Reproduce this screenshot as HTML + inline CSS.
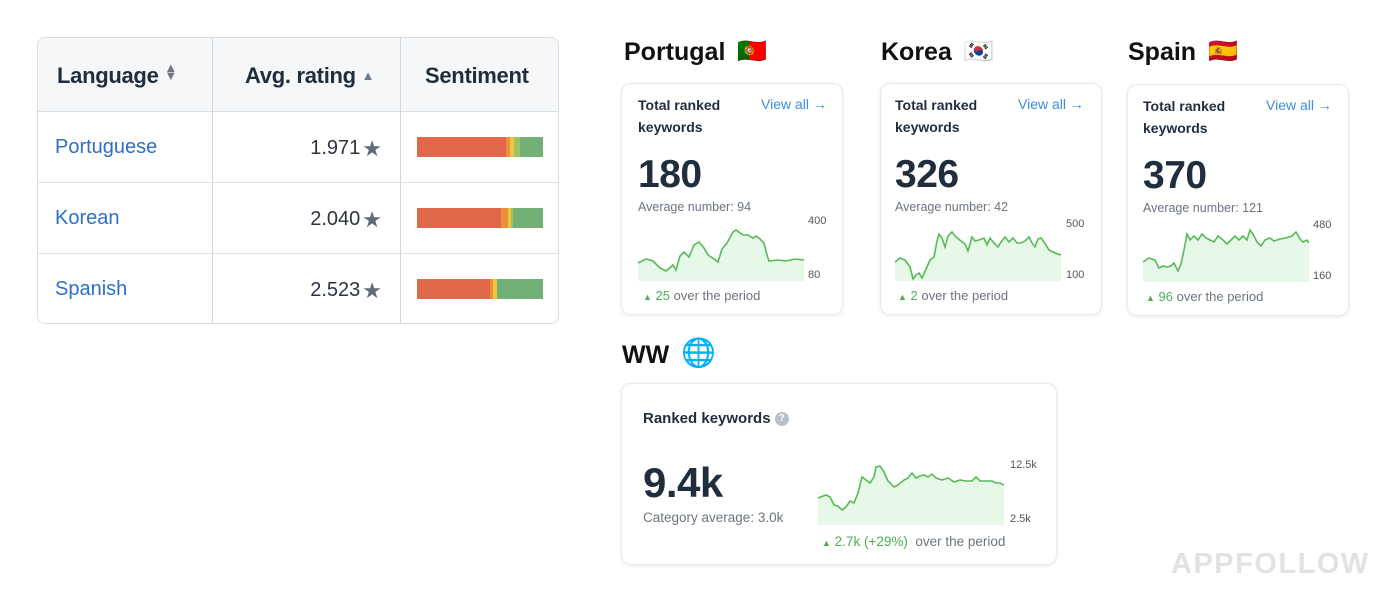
<!DOCTYPE html>
<html><head><meta charset="utf-8"><style>
*{box-sizing:border-box;margin:0;padding:0}
body{width:1400px;height:602px;background:#fff;font-family:"Liberation Sans",sans-serif;position:relative;overflow:hidden;color:#1f2d3d}
.a{position:absolute}
.tbl{left:37px;top:37px;width:522px;height:287px;border:1px solid #d8dde3;border-radius:8px;overflow:hidden}
.hd{left:0;top:0;width:522px;height:74px;background:#f6f7f9;border-bottom:1px solid #d8dde3}
.vl{width:1px;background:#d0d6de;top:0;height:287px}
.hl{height:1px;background:#dde2e8;left:0;width:522px}
.th{font-size:22px;font-weight:bold;color:#1f2d3d;top:25px;letter-spacing:-0.3px}
.lang{font-size:20px;color:#2e6fc4;left:17px}
.rt{font-size:20px;color:#2b3440;right:176px}
.star{color:#5d6b7a;font-size:22px;margin-left:2px;vertical-align:-2px}
.bar{left:379px;width:126px;height:20px;display:flex}
.card{border:1px solid #e6e9ee;border-radius:10px;box-shadow:0 1px 4px rgba(0,0,0,.08);background:#fff}
.ct{font-size:14px;font-weight:bold;line-height:22px;color:#1f2d3d}
.va{font-size:14px;color:#3b8de0}
.big{font-size:39px;font-weight:bold;color:#1f2d3d;letter-spacing:-0.5px}
.avg{font-size:12.5px;color:#6b7480}
.ax{font-size:11px;color:#555}
.per{font-size:13px;color:#6b7480}
.per b{color:#4caf50;font-weight:normal}
.h2{font-size:25px;font-weight:bold;color:#111}
.fl{font-size:24px;margin-left:12px;vertical-align:1px}
</style></head><body>
<div class="a tbl">
 <div class="a hd"></div>
 <div class="a vl" style="left:174px"></div><div class="a vl" style="left:362px"></div>
 <div class="a hl" style="top:144px"></div><div class="a hl" style="top:215px"></div>
 <div class="a th" style="left:19px">Language <span style="color:#6b7886;font-size:13px;display:inline-block;line-height:8px;vertical-align:3px">▲<br>▼</span></div>
 <div class="a th" style="left:207px">Avg. rating <span style="color:#6b7886;font-size:13px;vertical-align:3px">▲</span></div>
 <div class="a th" style="left:387px">Sentiment</div>
 <div class="a lang" style="top:98px">Portuguese</div>
 <div class="a lang" style="top:169px">Korean</div>
 <div class="a lang" style="top:240px">Spanish</div>
 <div class="a rt" style="top:98px">1.971<span class="star">★</span></div>
 <div class="a rt" style="top:169px">2.040<span class="star">★</span></div>
 <div class="a rt" style="top:240px">2.523<span class="star">★</span></div>
 <div class="a bar" style="top:99px"><div style="width:89px;background:#e0674a"></div><div style="width:4px;background:#e8913a"></div><div style="width:4px;background:#f2c63a"></div><div style="width:6px;background:#9cc36a"></div><div style="flex:1;background:#72b077"></div></div>
 <div class="a bar" style="top:170px"><div style="width:84px;background:#e0674a"></div><div style="width:7px;background:#e8913a"></div><div style="width:3px;background:#f2c63a"></div><div style="width:2px;background:#9cc36a"></div><div style="flex:1;background:#72b077"></div></div>
 <div class="a bar" style="top:241px"><div style="width:73px;background:#e0674a"></div><div style="width:3px;background:#e8913a"></div><div style="width:4px;background:#f2c63a"></div><div style="flex:1;background:#72b077"></div></div>
</div>

<div class="a h2" style="left:624px;top:37px">Portugal<span class="fl">🇵🇹</span></div>
<div class="a h2" style="left:881px;top:37px">Korea<span class="fl">🇰🇷</span></div>
<div class="a h2" style="left:1128px;top:37px">Spain<span class="fl">🇪🇸</span></div>
<div class="a h2" style="left:622px;top:336px">WW<span class="fl" style="font-size:28px">🌐</span></div>

<!-- Portugal -->
<div class="a card" style="left:621px;top:83px;width:222px;height:232px"></div>
<div class="a ct" style="left:638px;top:94px">Total ranked<br>keywords</div>
<div class="a va" style="left:761px;top:96px">View all →</div>
<div class="a big" style="left:638px;top:153px">180</div>
<div class="a avg" style="left:638px;top:200px">Average number: 94</div>
<div class="a ax" style="left:808px;top:215px">400</div><div class="a ax" style="left:808px;top:269px">80</div>
<svg class="a sp" style="left:638px;top:225px" width="166" height="56"><polyline points="0,38 8,34 15,36 22,43 28,46 35,40 38,45 42,31 46,27 51,32 56,20 61,17 66,23 70,30 76,34 80,37 84,24 89,18 95,7 98,5 105,10 110,10 115,13 118,11 122,14 126,18 129,30 131,36 140,35 148,36 157,34 166,35" fill="none" stroke="#55bb55" stroke-width="1.6"/></svg>
<div class="a per" style="left:643px;top:288px"><b><span style="font-size:9px">▲</span> 25</b> over the period</div>

<!-- Korea -->
<div class="a card" style="left:880px;top:83px;width:222px;height:232px"></div>
<div class="a ct" style="left:895px;top:94px">Total ranked<br>keywords</div>
<div class="a va" style="left:1018px;top:96px">View all →</div>
<div class="a big" style="left:895px;top:153px">326</div>
<div class="a avg" style="left:895px;top:200px">Average number: 42</div>
<div class="a ax" style="left:1066px;top:218px">500</div><div class="a ax" style="left:1066px;top:269px">100</div>
<svg class="a sp" style="left:895px;top:225px" width="166" height="56"><polyline points="0,37 5,33 10,35 15,42 18,54 21,50 24,48 27,53 31,44 35,35 39,32 42,16 44,9 47,13 50,22 53,11 57,7 61,12 66,16 70,19 73,26 77,12 80,16 84,15 89,13 92,20 95,13 99,18 103,22 106,17 110,12 114,17 118,13 122,18 126,18 130,16 134,12 137,18 140,22 143,14 146,13 151,20 154,25 160,28 166,30" fill="none" stroke="#55bb55" stroke-width="1.6"/></svg>
<div class="a per" style="left:898px;top:288px"><b><span style="font-size:9px">▲</span> 2</b> over the period</div>

<!-- Spain -->
<div class="a card" style="left:1127px;top:84px;width:222px;height:232px"></div>
<div class="a ct" style="left:1143px;top:95px">Total ranked<br>keywords</div>
<div class="a va" style="left:1266px;top:97px">View all →</div>
<div class="a big" style="left:1143px;top:154px">370</div>
<div class="a avg" style="left:1143px;top:201px">Average number: 121</div>
<div class="a ax" style="left:1313px;top:219px">480</div><div class="a ax" style="left:1313px;top:270px">160</div>
<svg class="a sp" style="left:1143px;top:226px" width="166" height="56"><polyline points="0,36 6,32 12,34 16,42 20,40 24,41 28,40 31,37 35,45 38,38 41,24 44,8 47,14 51,10 55,14 59,8 63,12 67,14 71,16 75,10 80,14 84,18 88,14 92,10 96,14 100,10 104,14 107,4 110,8 114,16 118,20 122,14 127,12 131,15 137,13 143,12 149,10 153,6 157,13 160,16 164,14 166,17" fill="none" stroke="#55bb55" stroke-width="1.6"/></svg>
<div class="a per" style="left:1146px;top:289px"><b><span style="font-size:9px">▲</span> 96</b> over the period</div>

<!-- WW -->
<div class="a card" style="left:621px;top:383px;width:436px;height:182px"></div>
<div class="a ct" style="left:643px;top:408px;font-size:15px">Ranked keywords <span style="display:inline-block;width:14px;height:14px;border-radius:7px;background:#b8c0ca;color:#fff;font-size:10px;text-align:center;line-height:14px;vertical-align:2px">?</span></div>
<div class="a big" style="left:643px;top:459px;font-size:42px">9.4k</div>
<div class="a" style="left:643px;top:510px;font-size:13.5px;color:#6b7480">Category average: 3.0k</div>
<div class="a ax" style="left:1010px;top:459px">12.5k</div><div class="a ax" style="left:1010px;top:513px">2.5k</div>
<svg class="a sp" style="left:818px;top:463px" width="186" height="62"><polyline points="0,35 8,32 12,34 16,42 20,43 24,47 28,44 32,38 36,40 40,30 44,14 48,17 52,20 56,14 58,4 62,3 66,9 70,18 76,24 80,22 86,17 90,15 94,10 98,15 102,13 106,12 110,14 114,11 118,15 124,17 130,15 136,19 142,17 148,18 154,18 158,14 162,18 168,18 174,18 178,20 182,20 186,22" fill="none" stroke="#55bb55" stroke-width="1.6"/></svg>
<div class="a per" style="left:822px;top:534px;font-size:13.5px"><b><span style="font-size:9px">▲</span> 2.7k (+29%)</b>&nbsp; over the period</div>

<div class="a" style="left:1171px;top:548px;font-size:29px;font-weight:bold;color:#e2e2e2;letter-spacing:1.5px">APPFOLLOW</div>
<script>
document.querySelectorAll('svg.sp').forEach(function(s){
 var pl=s.querySelector('polyline');var h=s.getAttribute('height');
 var pts=pl.getAttribute('points').trim().split(/\s+/);
 var first=pts[0].split(',')[0],last=pts[pts.length-1].split(',')[0];
 var pg=document.createElementNS('http://www.w3.org/2000/svg','polygon');
 pg.setAttribute('points',pts.join(' ')+' '+last+','+h+' '+first+','+h);
 pg.setAttribute('fill','#e8f8e8');
 s.insertBefore(pg,pl);
});
</script>
</body></html>
